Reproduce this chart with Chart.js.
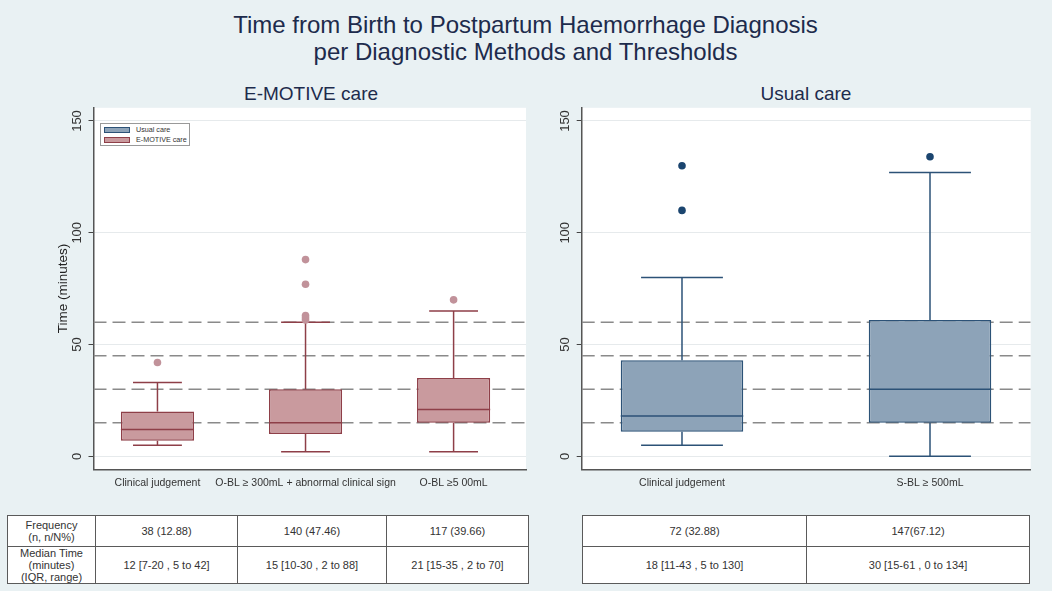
<!DOCTYPE html>
<html>
<head>
<meta charset="utf-8">
<script src="https://cdn.jsdelivr.net/npm/chart.js@4"></script>
<style>
html,body{margin:0;padding:0;}
body{width:1052px;height:591px;background:#e9f1f3;position:relative;overflow:hidden;font-family:"Liberation Sans",Arial,sans-serif;}
#title{position:absolute;left:0;width:1051px;top:11px;text-align:center;font-size:24px;line-height:27px;color:#1d2b4c;}
.ptitle{position:absolute;width:240px;top:83px;text-align:center;font-size:19px;line-height:22px;color:#1d2b4c;}
canvas{position:absolute;}
.cell{position:absolute;box-sizing:border-box;border:1px solid #5a5a5a;background:#fff;display:flex;align-items:center;justify-content:center;text-align:center;font-size:11px;line-height:12px;color:#333;}
#legend{position:absolute;left:100px;top:123px;width:90px;height:23px;box-sizing:border-box;border:1px solid #999;background:#fff;}
.lg{position:absolute;left:3px;width:26px;height:6px;box-sizing:border-box;}
.lt{position:absolute;left:35px;font-size:7.2px;line-height:8px;color:#333;white-space:nowrap;}
</style>
</head>
<body>
<div id="title">Time from Birth to Postpartum Haemorrhage Diagnosis<br>per Diagnostic Methods and Thresholds</div>
<div class="ptitle" style="left:191px">E-MOTIVE care</div>
<div class="ptitle" style="left:686px">Usual care</div>
<canvas id="c1" width="530" height="400" style="left:0;top:100px;width:530px;height:400px"></canvas>
<canvas id="c2" width="522" height="400" style="left:530px;top:100px;width:522px;height:400px"></canvas>
<div id="legend"></div>
<div id="tables"></div>
<script>
// ---------- data ----------
const yTicks = [0, 50, 100, 150];
const refLines = [15, 30, 45, 60];

const emCats = ['Clinical judgement', 'O-BL \u2265 300mL + abnormal clinical sign', 'O-BL \u22655 00mL'];
const emMin = [5, 2, 2];
const emQ1 = [7, 10, 15];
const emMed = [12, 15, 21];
const emQ3 = [20, 30, 35];
const emMax = [33, 60, 65];
const emOutliers = [[42], [61, 62, 63, 77, 88], [70]];

const ucCats = ['Clinical judgement', 'S-BL \u2265 500mL'];
const ucMin = [5, 0];
const ucQ1 = [11, 15];
const ucMed = [18, 30];
const ucQ3 = [43, 61];
const ucMax = [80, 127];
const ucOutliers = [[110, 130], [134]];

const legendLabels = ['Usual care', 'E-MOTIVE care'];

const rowLabels = [['Frequency', '(n, n/N%)'], ['Median Time', '(minutes)', '(IQR, range)']];
const emFreq = ['38 (12.88)', '140 (47.46)', '117 (39.66)'];
const emMedianTxt = ['12 [7-20 , 5 to 42]', '15 [10-30 , 2 to 88]', '21 [15-35 , 2 to 70]'];
const ucFreq = ['72 (32.88)', '147(67.12)'];
const ucMedianTxt = ['18 [11-43 , 5 to 130]', '30 [15-61 , 0 to 134]'];

// ---------- style ----------
const FONT = '"Liberation Sans", Arial, sans-serif';
const BOX_FRAC = 0.494, CAP_FRAC = 0.33;
const Y_MIN = -5.8, Y_MAX = 155.9;
const emStyle = {fill: '#c99a9e', line: '#8e3f48', out: '#c1929a'};
const ucStyle = {fill: '#8da3b8', line: '#2c5277', out: '#1b456f'};

const bgPlugin = {
  id: 'plotBg',
  beforeDraw(chart) {
    const {ctx, chartArea: a} = chart;
    ctx.save();
    ctx.fillStyle = '#ffffff';
    ctx.fillRect(a.left, a.top, a.right - a.left, a.bottom - a.top);
    ctx.restore();
  }
};

function boxChart(canvas, o) {
  const pos = o.cats.map((_, i) => i + 1);
  const hb = BOX_FRAC / 2, hc = CAP_FRAC / 2;
  const seg = [];
  pos.forEach((x, i) => {
    seg.push({x, y: o.min[i]}, {x, y: o.q1[i]}, {x, y: null});
    seg.push({x, y: o.q3[i]}, {x, y: o.max[i]}, {x, y: null});
    seg.push({x: x - hc, y: o.min[i]}, {x: x + hc, y: o.min[i]}, {x, y: null});
    seg.push({x: x - hc, y: o.max[i]}, {x: x + hc, y: o.max[i]}, {x, y: null});
    seg.push({x: x - hb, y: o.med[i]}, {x: x + hb, y: o.med[i]}, {x, y: null});
  });
  const ref = [];
  refLines.forEach(v => ref.push({x: o.xMin, y: v}, {x: o.xMax, y: v}, {x: o.xMax, y: null}));
  const out = [];
  o.outliers.forEach((arr, i) => arr.forEach(v => out.push({x: pos[i], y: v})));
  const boxes = pos.map((x, i) => ({x, y: [o.q1[i], o.q3[i]]}));

  return new Chart(canvas, {
    type: 'bar',
    data: {
      datasets: [
        {type: 'line', data: ref, borderColor: '#8a8a8a', borderWidth: 1.6, borderDash: [13, 6],
         pointRadius: 0, fill: false, spanGaps: false, tension: 0, order: 4},
        {type: 'bar', data: boxes, backgroundColor: o.st.fill, borderColor: o.st.line, borderWidth: 1.5,
         borderSkipped: false, categoryPercentage: 1, barPercentage: BOX_FRAC, order: 3},
        {type: 'line', data: seg, borderColor: o.st.line, borderWidth: 1.5, pointRadius: 0,
         fill: false, spanGaps: false, tension: 0, order: 2},
        {type: 'scatter', data: out, backgroundColor: o.st.out, borderColor: o.st.out, pointRadius: 3.8,
         borderWidth: 0, order: 1}
      ]
    },
    options: {
      responsive: false,
      animation: false,
      events: [],
      layout: {padding: o.padding},
      plugins: {legend: {display: false}, tooltip: {enabled: false}, title: {display: false}},
      scales: {
        x: {
          type: 'linear', min: o.xMin, max: o.xMax, offset: false,
          afterBuildTicks: s => { s.ticks = pos.map(v => ({value: v})); },
          afterFit: s => { s.height = o.xAxisHeight; },
          ticks: {autoSkip: false, minRotation: 0, maxRotation: 0, padding: 8, color: '#333',
                  font: {family: FONT, size: 10.5}, callback: v => o.cats[Math.round(v) - 1]},
          grid: {display: false, drawTicks: false, offset: false},
          border: {display: true, color: '#555', width: 1.5}
        },
        y: {
          type: 'linear', min: Y_MIN, max: Y_MAX, beginAtZero: false,
          afterBuildTicks: s => { s.ticks = yTicks.map(v => ({value: v})); },
          afterFit: s => { s.width = o.yAxisWidth; },
          ticks: {minRotation: 90, maxRotation: 90, crossAlign: 'center', padding: 0, color: '#333',
                  font: {family: FONT, size: 13}},
          grid: {color: '#e6eaec', lineWidth: 1, drawTicks: true, tickLength: 5, tickColor: '#444'},
          border: {display: true, color: '#555', width: 1.5},
          title: {display: !!o.yTitle, text: o.yTitle || '', color: '#222',
                  font: {family: FONT, size: 13.5}, padding: {top: 55, bottom: 0}}
        }
      }
    },
    plugins: [bgPlugin]
  });
}

boxChart(document.getElementById('c1'), {
  cats: emCats, min: emMin, q1: emQ1, med: emMed, q3: emQ3, max: emMax, outliers: emOutliers,
  st: emStyle, xMin: 0.568, xMax: 3.489, yAxisWidth: 93.5, xAxisHeight: 30.7,
  padding: {left: 0, right: 0.7, top: 5, bottom: 0}, yTitle: 'Time (minutes)'
});
boxChart(document.getElementById('c2'), {
  cats: ucCats, min: ucMin, q1: ucQ1, med: ucMed, q3: ucQ3, max: ucMax, outliers: ucOutliers,
  st: ucStyle, xMin: 0.5956, xMax: 2.406, yAxisWidth: 51.7, xAxisHeight: 30.7,
  padding: {left: 0, right: 21.3, top: 5, bottom: 0}
});

// ---------- legend ----------
const lg = document.getElementById('legend');
[ucStyle, emStyle].forEach((st, i) => {
  const sw = document.createElement('div');
  sw.className = 'lg';
  sw.style.top = (3 + i * 10) + 'px';
  sw.style.background = st.fill;
  sw.style.border = '1px solid ' + st.line;
  lg.appendChild(sw);
  const t = document.createElement('div');
  t.className = 'lt';
  t.style.top = (2 + i * 10) + 'px';
  t.textContent = legendLabels[i];
  lg.appendChild(t);
});

// ---------- tables ----------
function makeTable(xs, ys, rows) {
  const host = document.getElementById('tables');
  rows.forEach((row, r) => row.forEach((lines, c) => {
    const d = document.createElement('div');
    d.className = 'cell';
    d.style.left = xs[c] + 'px';
    d.style.top = ys[r] + 'px';
    d.style.width = (xs[c + 1] - xs[c] + 1) + 'px';
    d.style.height = (ys[r + 1] - ys[r] + 1) + 'px';
    const inner = document.createElement('div');
    lines.forEach((ln, k) => {
      if (k) inner.appendChild(document.createElement('br'));
      inner.appendChild(document.createTextNode(ln));
    });
    d.appendChild(inner);
    host.appendChild(d);
  }));
}
makeTable([7, 95, 237, 386, 528], [515, 546, 583], [
  [rowLabels[0]].concat(emFreq.map(s => [s])),
  [rowLabels[1]].concat(emMedianTxt.map(s => [s]))
]);
makeTable([582, 806, 1029], [515, 546, 583], [
  ucFreq.map(s => [s]),
  ucMedianTxt.map(s => [s])
]);
</script>
</body>
</html>
